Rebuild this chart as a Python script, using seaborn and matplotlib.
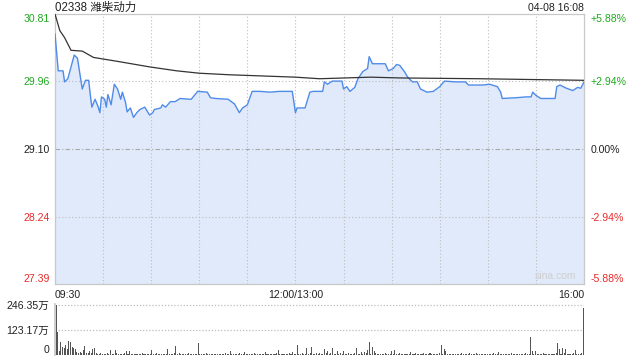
import matplotlib
matplotlib.use("Agg")
import matplotlib.pyplot as plt
import seaborn as sns
import pandas as pd
import numpy as np

# ---------------- data ----------------
title = "02338 潍柴动力"
stamp = "04-08 16:08"
price_ticks = [27.39, 28.24, 29.10, 29.96, 30.81]
pct_labels = ["-5.88%", "-2.94%", "0.00%", "+2.94%", "+5.88%"]
time_ticks = [0, 150, 330]
time_labels = ["09:30", "12:00/13:00", "16:00"]
vol_ticks = [0, 123.17, 246.35]
vol_labels = ["0", "123.17万", "246.35万"]

price_min = [0, 2, 5, 6, 8, 12, 14, 16, 17, 19, 21, 22, 23, 25, 27, 28, 29, 31, 32, 33,
             35, 37, 39, 41, 42, 44, 45, 47, 49, 51, 53, 56, 59, 61, 62, 66, 67, 69, 72, 75,
             78, 84, 85, 89, 95, 97, 100, 108, 112, 115, 117, 120, 123, 128, 134, 140, 148, 150, 151, 156,
             159, 161, 167, 168, 170, 173, 179, 180, 182, 184, 187, 189, 192, 195, 196, 198, 201, 206, 208, 211,
             213, 215, 218, 220, 223, 226, 228, 232, 236, 240, 243, 250, 256, 258, 267, 271, 276, 278, 279, 288,
             294, 297, 298, 300, 303, 312, 313, 315, 319, 323, 326, 328, 330]
price_val = [30.56, 30.09, 30.09, 29.95, 29.99, 30.29, 30.25, 29.99, 29.86, 29.97, 29.97, 29.79, 29.63, 29.73, 29.63, 29.56, 29.76, 29.73, 29.63, 29.79,
             29.66, 29.92, 29.86, 29.73, 29.82, 29.69, 29.57, 29.62, 29.50, 29.56, 29.60, 29.63, 29.53, 29.56, 29.60, 29.62, 29.66, 29.63, 29.70, 29.70,
             29.74, 29.73, 29.73, 29.83, 29.82, 29.75, 29.74, 29.73, 29.67, 29.56, 29.62, 29.66, 29.83, 29.83, 29.82, 29.83, 29.83, 29.56, 29.62, 29.62,
             29.82, 29.83, 29.83, 29.95, 29.92, 29.96, 29.96, 29.86, 29.89, 29.83, 29.88, 29.99, 30.08, 30.12, 30.27, 30.18, 30.18, 30.18, 30.09, 30.12,
             30.17, 30.16, 30.08, 30.01, 29.95, 29.95, 29.86, 29.82, 29.83, 29.89, 29.96, 29.95, 29.95, 29.91, 29.91, 29.92, 29.89, 29.82, 29.74, 29.75,
             29.76, 29.76, 29.82, 29.78, 29.74, 29.74, 29.89, 29.91, 29.87, 29.84, 29.88, 29.87, 29.95]

avg_min = [0, 3, 6, 10, 17, 24, 39, 59, 76, 90, 109, 150, 165, 197, 215, 265, 330]
avg_val = [30.81, 30.60, 30.51, 30.35, 30.34, 30.26, 30.21, 30.14, 30.09, 30.06, 30.04, 30.01, 29.99, 30.01, 30.00, 29.99, 29.97]

volume = [246, 115, 20, 66, 41, 35, 49, 30, 71, 66, 40, 33, 28, 16, 12, 16, 10, 25, 44, 8, 10, 20, 8, 30, 35, 10, 6, 5, 8, 4,
          6, 4, 8, 5, 25, 6, 4, 25, 8, 5, 4, 6, 3, 8, 18, 5, 18, 6, 4, 5, 7, 3, 5, 4, 8, 6, 3, 5, 4, 6,
          25, 5, 4, 8, 3, 6, 5, 4, 7, 5, 30, 6, 4, 5, 8, 44, 6, 10, 4, 5, 3, 6, 4, 8, 5, 3, 4, 6, 5, 61,
          6, 4, 5, 3, 8, 5, 4, 6, 3, 5, 7, 4, 5, 3, 6, 4, 8, 5, 4, 21, 5, 3, 6, 4, 5, 8, 4, 6, 16, 5,
          4, 6, 3, 5, 8, 4, 6, 3, 5, 4, 6, 16, 5, 4, 3, 6, 5, 4, 8, 25, 5, 4, 6, 3, 5, 4, 8, 5, 16, 6,
          4, 49, 6, 5, 8, 4, 6, 36, 5, 8, 41, 6, 4, 8, 5, 12, 4, 6, 30, 8, 21, 5, 8, 36, 6, 4, 21, 5, 8, 6,
          21, 5, 4, 8, 6, 5, 4, 8, 36, 6, 5, 16, 4, 16, 8, 25, 66, 6, 41, 21, 8, 5, 4, 6, 3, 5, 8, 4, 6, 5,
          21, 5, 25, 6, 4, 8, 5, 3, 6, 4, 5, 6, 16, 4, 5, 8, 3, 6, 5, 4, 12, 5, 6, 4, 12, 5, 3, 6, 4, 5,
          8, 49, 6, 30, 21, 5, 4, 6, 3, 5, 4, 6, 5, 3, 8, 4, 5, 6, 3, 12, 5, 4, 6, 8, 3, 5, 4, 6, 5, 4,
          6, 3, 5, 4, 8, 6, 5, 16, 4, 6, 5, 3, 4, 6, 5, 8, 4, 3, 6, 5, 4, 6, 5, 3, 8, 5, 6, 90, 21, 5,
          21, 4, 6, 3, 5, 8, 4, 6, 5, 3, 4, 6, 5, 8, 61, 30, 6, 33, 8, 30, 5, 4, 6, 5, 8, 25, 4, 6, 5, 8,
          230]
vol_min = list(range(len(volume)))

# ---------------- style ----------------
sns.set_theme(style="white")
plt.rcParams["font.family"] = ["Liberation Sans", "Noto Sans CJK SC", "DejaVu Sans"]
FS = 7.6
GREEN = "#1fa81f"
RED = "#e82a2a"
BLACK = "#222222"
SPINE = "#c8c8c8"
GRID = "#bdbdbd"
LINE = "#4f8be8"
FILL = "#e0eafb"

W, H = 640, 360
fig = plt.figure(figsize=(6.4, 3.6), dpi=100)
fig.patch.set_facecolor("white")

# main price axes
ax = fig.add_axes([55 / W, 1 - 284 / H, 529 / W, 270 / H])
price_df = pd.DataFrame({"m": price_min, "p": price_val})
avg_df = pd.DataFrame({"m": avg_min, "p": avg_val})
ax.fill_between(price_df["m"], price_df["p"], 27.39, color=FILL, lw=0, zorder=1)
sns.lineplot(data=price_df, x="m", y="p", ax=ax, color=LINE, lw=1.0, estimator=None, zorder=3)
sns.lineplot(data=avg_df, x="m", y="p", ax=ax, color="#333333", lw=0.9, estimator=None, zorder=4)
ax.set_xlim(0, 330)
ax.set_ylim(27.39, 30.81)
ax.set_xlabel("")
ax.set_ylabel("")
for m in range(30, 330, 30):
    ax.axvline(m, color=GRID, ls=(0, (1, 2)), lw=0.8, zorder=2)
ax.axhline(29.96, color=GRID, ls=(0, (1, 2)), lw=0.8, zorder=2)
ax.axhline(28.24, color=GRID, ls=(0, (1, 2)), lw=0.8, zorder=2)
ax.axhline(29.10, color="#a8a8a8", ls=(0, (4, 2, 1, 2)), lw=0.8, zorder=2)
for s in ax.spines.values():
    s.set_color(SPINE)
    s.set_linewidth(0.9)

cols = [RED, RED, BLACK, GREEN, GREEN]
ax.set_yticks(price_ticks, [f"{v:.2f}" for v in price_ticks])
ax.tick_params(axis="y", length=0, pad=4, labelsize=FS)
for lab, c in zip(ax.get_yticklabels(), cols):
    lab.set_color(c)
ylabs = ax.get_yticklabels()
ylabs[0].set_va("bottom")
ylabs[-1].set_va("top")

ax.set_xticks(time_ticks, time_labels)
ax.tick_params(axis="x", length=0, pad=4, labelsize=FS, labelcolor=BLACK)
xl = ax.get_xticklabels()
xl[0].set_ha("left")
xl[2].set_ha("right")

ax2 = ax.twinx()
ax2.set_ylim(27.39, 30.81)
ax2.set_yticks(price_ticks, pct_labels)
ax2.tick_params(axis="y", length=0, pad=5, labelsize=FS)
for lab, c in zip(ax2.get_yticklabels(), cols):
    lab.set_color(c)
r = ax2.get_yticklabels()
r[0].set_va("bottom")
r[-1].set_va("top")
for s in ax2.spines.values():
    s.set_visible(False)

ax.text(0.985, 0.012, "sina.com", transform=ax.transAxes, ha="right", va="bottom",
        fontsize=7.5, color="#cfcfcf", zorder=5)

fig.text(55 / W, 1 - 8 / H, title, ha="left", va="center", fontsize=8.3, color=BLACK)
fig.text(584 / W, 1 - 8 / H, stamp, ha="right", va="center", fontsize=7.6, color=BLACK)

# volume axes
vax = fig.add_axes([55 / W, 1 - 355 / H, 529 / W, 51 / H])
vol_df = pd.DataFrame({"m": vol_min, "v": volume})
sns.barplot(data=vol_df, x="m", y="v", ax=vax, native_scale=True, color="#555555",
            width=0.65, linewidth=0, saturation=1, zorder=3)
vax.set_xlim(-0.7, 330.4)
vax.set_ylim(0, 246.35 * 51 / 50)
vax.set_xlabel("")
vax.set_ylabel("")
vax.set_xticks([])
vax.axhline(246.35, color=GRID, ls=(0, (1, 1.5)), lw=0.9, zorder=0)
vax.axhline(123.17, color=GRID, ls=(0, (1, 1.5)), lw=0.9, zorder=0)
for k, s in vax.spines.items():
    s.set_visible(k == "left")
    s.set_color(SPINE)
    s.set_zorder(1)
vax.set_yticks(vol_ticks, vol_labels)
vax.tick_params(axis="y", length=0, pad=4, labelsize=FS, labelcolor=BLACK)
vax.get_yticklabels()[0].set_va("bottom")

fig.savefig("out.png", dpi=100, facecolor="white")
